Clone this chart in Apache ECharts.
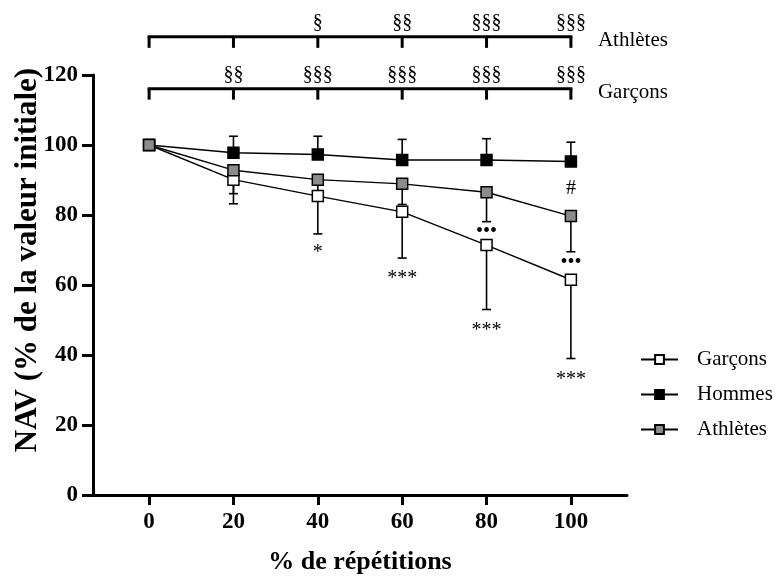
<!DOCTYPE html>
<html><head><meta charset="utf-8">
<script src="https://cdn.jsdelivr.net/npm/echarts@6/dist/echarts.min.js"></script>
<style>html,body{margin:0;padding:0;background:#fff}#c{width:777px;height:578px}</style>
</head><body><div id="c"></div>
<script>
// ---- data ----
const xValues = [0, 20, 40, 60, 80, 100];
const garcons = [100, 90.1, 85.4, 80.9, 71.4, 61.5];
const garconsLow = [null, 83.2, 74.6, 67.7, 53.0, 39.0];
const hommes = [100, 97.8, 97.3, 95.7, 95.7, 95.3];
const hommesHigh = [null, 102.5, 102.5, 101.6, 101.8, 100.8];
const athletes = [100, 92.8, 90.1, 88.9, 86.5, 79.7];
const athletesLow = [null, 86.1, 84.5, 83.0, 78.1, 69.5];
const sigAthletes = ['', '', '§', '§§', '§§§', '§§§'];
const sigGarcons = ['', '§§', '§§§', '§§§', '§§§', '§§§'];
const annotX = [40, 60, 80, 100, 80, 100, 100];
const annotY = [70.4, 63.0, 48.1, 34.1, 75.3, 66.4, 87.6];
const annotText = ['*', '***', '***', '***', '•••', '•••', '#'];
const xTicks = [0, 20, 40, 60, 80, 100];

// ---- layout / style ----
const FONT = '"Liberation Serif", "Times New Roman", serif';
const bracketLevelAth = 130.9;
const bracketLevelGar = 116.1;

function pairs(ys) { return xValues.map((x, i) => [x, ys[i]]); }
function errData(ys, ends) {
  const out = [];
  xValues.forEach((x, i) => { if (ends[i] != null) out.push([x, ys[i], ends[i]]); });
  return out;
}
function errRender(params, api) {
  const p1 = api.coord([api.value(0), api.value(1)]);
  const p2 = api.coord([api.value(0), api.value(2)]);
  const st = { stroke: '#000', lineWidth: 1.6 };
  return { type: 'group', children: [
    { type: 'line', shape: { x1: p1[0], y1: p1[1], x2: p2[0], y2: p2[1] }, style: st },
    { type: 'line', shape: { x1: p2[0] - 4.5, y1: p2[1], x2: p2[0] + 4.5, y2: p2[1] }, style: st }
  ]};
}
function bracketRender(level, sig, name) {
  return function (params, api) {
    const left = api.coord([xValues[0], level]);
    const right = api.coord([xValues[xValues.length - 1], level]);
    const st = { stroke: '#000', lineWidth: 3 };
    const ch = [{ type: 'line', shape: { x1: left[0] - 1.5, y1: left[1], x2: right[0] + 1.5, y2: right[1] }, style: st }];
    xValues.forEach((x, i) => {
      const p = api.coord([x, level]);
      ch.push({ type: 'line', shape: { x1: p[0], y1: p[1], x2: p[0], y2: p[1] + 11 }, style: st });
      if (sig[i]) ch.push({ type: 'text', x: p[0], y: p[1] - 14,
        style: { text: sig[i], font: '20px ' + FONT, fill: '#000', align: 'center', verticalAlign: 'middle' } });
    });
    ch.push({ type: 'text', x: right[0] + 27, y: right[1] + 4,
      style: { text: name, font: '21px ' + FONT, fill: '#000', align: 'left', verticalAlign: 'middle' } });
    return { type: 'group', children: ch };
  };
}
function annotRender(params, api) {
  const i = params.dataIndex;
  const p = api.coord([annotX[i], annotY[i]]);
  const t = annotText[i];
  const dy = t.indexOf('*') >= 0 ? 4 : 0;
  return { type: 'text', x: p[0], y: p[1] + dy,
    style: { text: t, font: '20px ' + FONT, fill: '#000', align: 'center', verticalAlign: 'middle' } };
}

const lineSeries = (name, ys, fill, z) => ({
  name, type: 'line', data: pairs(ys), z,
  symbol: 'rect', symbolSize: 11,
  itemStyle: { color: fill, borderColor: '#000', borderWidth: 1.5 },
  lineStyle: { color: '#000', width: 1.4 },
  emphasis: { disabled: true }, animation: false
});

const chart = echarts.init(document.getElementById('c'), null, { renderer: 'canvas' });
chart.setOption({
  backgroundColor: '#fff',
  animation: false,
  grid: { left: 93, top: 75, width: 534, height: 420, containLabel: false },
  xAxis: {
    type: 'value', min: -13.3, max: 113.3,
    axisLine: { onZero: false, lineStyle: { color: '#000', width: 3 } },
    axisTick: { customValues: xTicks, length: 10, lineStyle: { color: '#000', width: 3 } },
    axisLabel: { customValues: xTicks, margin: 16, color: '#000', fontFamily: FONT, fontWeight: 'bold', fontSize: 23 },
    splitLine: { show: false }
  },
  yAxis: {
    type: 'value', min: 0, max: 120, interval: 20,
    axisLine: { show: true, onZero: false, lineStyle: { color: '#000', width: 3 } },
    axisTick: { show: true, length: 11, lineStyle: { color: '#000', width: 3 } },
    axisLabel: { margin: 15, color: '#000', fontFamily: FONT, fontWeight: 'bold', fontSize: 23 },
    splitLine: { show: false }
  },
  legend: {
    orient: 'vertical', left: 640, top: 349, padding: 0,
    itemWidth: 37, itemHeight: 11, itemGap: 14,
    data: ['Garçons', 'Hommes', 'Athlètes'],
    textStyle: { fontFamily: FONT, fontSize: 21, color: '#000', lineHeight: 18, padding: [0, 0, 0, 14] }
  },
  graphic: [
    { type: 'text', x: 28, y: 260, rotation: Math.PI / 2,
      style: { text: 'NAV (% de la valeur initiale)', font: 'bold 31px ' + FONT, fill: '#000', align: 'center', verticalAlign: 'middle' } },
    { type: 'text', x: 360, y: 562,
      style: { text: '% de répétitions', font: 'bold 26px ' + FONT, fill: '#000', align: 'center', verticalAlign: 'middle' } }
  ],
  series: [
    { type: 'custom', name: 'errG', data: errData(garcons, garconsLow), renderItem: errRender, z: 1, silent: true },
    { type: 'custom', name: 'errH', data: errData(hommes, hommesHigh), renderItem: errRender, z: 1, silent: true },
    { type: 'custom', name: 'errA', data: errData(athletes, athletesLow), renderItem: errRender, z: 1, silent: true },
    lineSeries('Garçons', garcons, '#ffffff', 2),
    lineSeries('Hommes', hommes, '#000000', 3),
    lineSeries('Athlètes', athletes, '#8c8c8c', 4),
    { type: 'custom', name: 'annot', data: annotX.map((x, i) => [x, annotY[i]]), renderItem: annotRender, z: 5, silent: true, clip: false },
    { type: 'custom', name: 'brA', data: [[0, bracketLevelAth]], renderItem: bracketRender(bracketLevelAth, sigAthletes, 'Athlètes'), z: 5, silent: true, clip: false },
    { type: 'custom', name: 'brG', data: [[0, bracketLevelGar]], renderItem: bracketRender(bracketLevelGar, sigGarcons, 'Garçons'), z: 5, silent: true, clip: false }
  ]
});
</script></body></html>
